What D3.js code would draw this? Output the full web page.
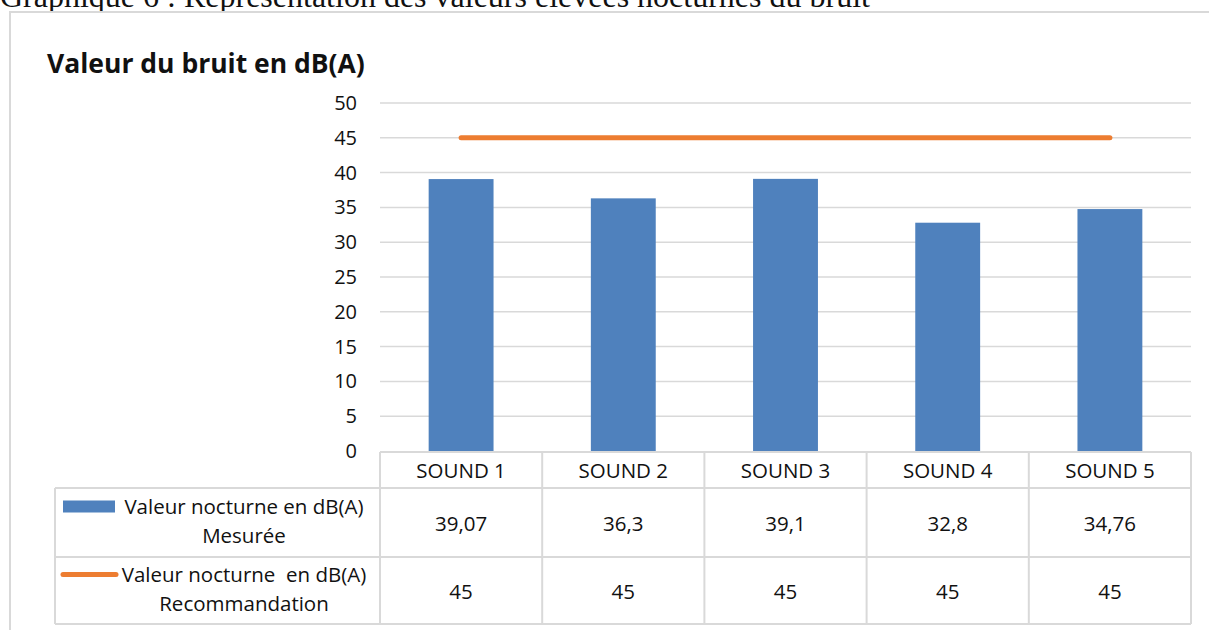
<!DOCTYPE html>
<html>
<head>
<meta charset="utf-8">
<script src="https://cdn.jsdelivr.net/npm/d3@7"></script>
<style>
  html, body { margin: 0; padding: 0; background: #fff; }
  svg { display: block; }
  text { font-family: "Open Sans", sans-serif; fill: #111; }
</style>
</head>
<body>
<svg id="chart" width="1209" height="630"></svg>
<script>
// Night-time noise levels per measuring point, with the recommended limit
const categories = ["SOUND 1", "SOUND 2", "SOUND 3", "SOUND 4", "SOUND 5"];
const measured = [39.07, 36.3, 39.1, 32.8, 34.76];
const recommended = [45, 45, 45, 45, 45];
const yTicks = [0, 5, 10, 15, 20, 25, 30, 35, 40, 45, 50];
const seriesNames = [
  ["Valeur nocturne en dB(A)", "Mesurée"],
  ["Valeur nocturne  en dB(A)", "Recommandation"]
];
const chartTitle = "Valeur du bruit en dB(A)";
const caption = "Graphique 6 : Représentation des valeurs élevées nocturnes du bruit";

const BLUE = "#4f81bd";
const ORANGE = "#ed7d31";
const GRID = "#d9d9d9";

const svg = d3.select("#chart");

// document caption above the chart frame
svg.append("text")
  .attr("x", 0).attr("y", 7)
  .style("font-family", "'Liberation Serif', 'Times New Roman', serif")
  .style("font-size", "32px")
  .text(caption);

// chart frame
svg.append("rect")
  .attr("x", 10).attr("y", 12)
  .attr("width", 1220).attr("height", 640)
  .attr("fill", "#fff")
  .attr("stroke", GRID).attr("stroke-width", 2);

// chart title
svg.append("text")
  .attr("x", 47).attr("y", 73)
  .style("font-size", "26.5px").style("font-weight", "700")
  .text(chartTitle);

const plotLeft = 380, plotRight = 1191;
const x = d3.scaleBand().domain(categories).range([plotLeft, plotRight]).paddingInner(0).paddingOuter(0);
const y = d3.scaleLinear().domain([0, 50]).range([451, 103]);

// horizontal gridlines
svg.append("g").selectAll("line")
  .data(yTicks.filter(d => d > 0))
  .join("line")
  .attr("x1", plotLeft).attr("x2", plotRight)
  .attr("y1", d => y(d)).attr("y2", d => y(d))
  .attr("stroke", GRID).attr("stroke-width", 1.5);

// value axis labels
const yAxis = svg.append("g")
  .attr("transform", `translate(${plotLeft},0)`)
  .call(d3.axisLeft(y).tickValues(yTicks).tickSize(0).tickPadding(23).tickFormat(d3.format("d")));
yAxis.select(".domain").remove();
yAxis.selectAll("text")
  .style("font-family", "'Open Sans', sans-serif")
  .style("font-size", "20px")
  .attr("fill", "#111");

// measured bars
const barW = x.bandwidth() * 0.4;
svg.append("g").selectAll("rect")
  .data(measured)
  .join("rect")
  .attr("x", (d, i) => x(categories[i]) + (x.bandwidth() - barW) / 2)
  .attr("width", barW)
  .attr("y", d => y(d))
  .attr("height", d => y(0) - y(d))
  .attr("fill", BLUE);

// recommended limit line
const line = d3.line()
  .x((d, i) => x(categories[i]) + x.bandwidth() / 2)
  .y(d => y(d));
svg.append("path")
  .datum(recommended)
  .attr("d", line)
  .attr("fill", "none")
  .attr("stroke", ORANGE)
  .attr("stroke-width", 5)
  .attr("stroke-linecap", "round");

// data table under the plot
const tableTop = 452, headerBottom = 488, row1Bottom = 557, row2Bottom = 624;
const legendLeft = 55;
const rows = [
  { top: headerBottom, bottom: row1Bottom, values: measured },
  { top: row1Bottom, bottom: row2Bottom, values: recommended }
];
const table = svg.append("g");
const fmt = v => String(v).replace(".", ",");

// horizontal borders
table.append("line")
  .attr("x1", plotLeft).attr("x2", plotRight)
  .attr("y1", tableTop).attr("y2", tableTop);
[headerBottom, row1Bottom, row2Bottom].forEach(yy => {
  table.append("line")
    .attr("x1", legendLeft).attr("x2", plotRight)
    .attr("y1", yy).attr("y2", yy);
});
// vertical borders
table.append("line")
  .attr("x1", legendLeft).attr("x2", legendLeft)
  .attr("y1", headerBottom).attr("y2", row2Bottom);
categories.concat([null]).forEach(c => {
  const xx = c ? x(c) : plotRight;
  table.append("line")
    .attr("x1", xx).attr("x2", xx)
    .attr("y1", tableTop).attr("y2", row2Bottom);
});
table.selectAll("line").attr("stroke", GRID).attr("stroke-width", 2);

// category labels
table.append("g").selectAll("text")
  .data(categories)
  .join("text")
  .attr("x", d => x(d) + x.bandwidth() / 2)
  .attr("y", (tableTop + headerBottom) / 2 + 8)
  .attr("text-anchor", "middle")
  .style("font-size", "20.5px")
  .text(d => d);

// value cells
rows.forEach(r => {
  const cy = (r.top + r.bottom) / 2;
  table.append("g").selectAll("text")
    .data(r.values)
    .join("text")
    .attr("x", (d, i) => x(categories[i]) + x.bandwidth() / 2)
    .attr("y", cy + 8)
    .attr("text-anchor", "middle")
    .style("font-size", "20.5px")
    .text(d => fmt(d));
});

// legend cells
const legendTextX = 244;
rows.forEach((r, ri) => {
  const cy = (r.top + r.bottom) / 2;
  const base1 = cy - 9, base2 = cy + 20;
  const keyY = base1 - 7;
  if (ri === 0) {
    table.append("rect")
      .attr("x", 63).attr("y", keyY - 6)
      .attr("width", 52).attr("height", 12)
      .attr("fill", BLUE);
  } else {
    table.append("line")
      .attr("x1", 63).attr("x2", 116)
      .attr("y1", keyY).attr("y2", keyY)
      .attr("stroke", ORANGE).attr("stroke-width", 5)
      .attr("stroke-linecap", "round");
  }
  table.append("text")
    .attr("x", legendTextX).attr("y", base1)
    .attr("text-anchor", "middle")
    .style("font-size", "20.5px")
    .style("white-space", "pre")
    .text(seriesNames[ri][0]);
  table.append("text")
    .attr("x", legendTextX).attr("y", base2)
    .attr("text-anchor", "middle")
    .style("font-size", "20.5px")
    .text(seriesNames[ri][1]);
});
</script>
</body>
</html>
